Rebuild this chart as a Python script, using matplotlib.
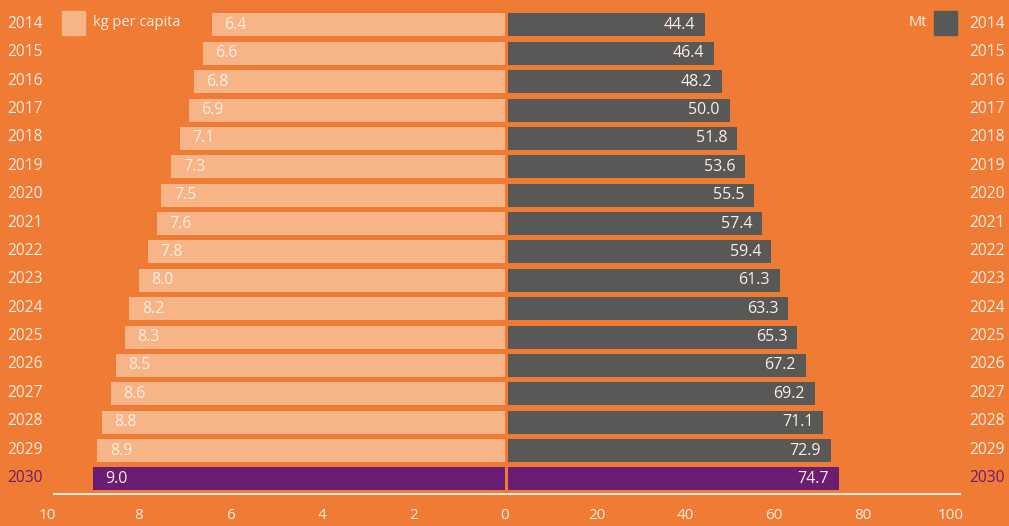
import matplotlib
matplotlib.use("Agg")
import matplotlib.pyplot as plt
from matplotlib.patches import Rectangle
from matplotlib.lines import Line2D

years = [str(y) for y in range(2014, 2031)]
kg_per_capita = [6.4, 6.6, 6.8, 6.9, 7.1, 7.3, 7.5, 7.6, 7.8, 8.0, 8.2, 8.3, 8.5, 8.6, 8.8, 8.9, 9.0]
mt = [44.4, 46.4, 48.2, 50.0, 51.8, 53.6, 55.5, 57.4, 59.4, 61.3, 63.3, 65.3, 67.2, 69.2, 71.1, 72.9, 74.7]
left_ticks = [10, 8, 6, 4, 2, 0]
right_ticks = [0, 20, 40, 60, 80, 100]

BG = "#EF7B34"
PEACH = "#F6B487"
GRAY = "#585856"
PURPLE = "#6B1C73"
TXT = "#FDEDE2"

plt.rcParams['font.family'] = ['Open Sans', 'DejaVu Sans']

W, H = 1009, 526
fig = plt.figure(figsize=(W / 100, H / 100), dpi=100, facecolor=BG)

n = len(years)
ax_bottom = (H - 494) / H
ax_height = 494 / H
ylim = (n - 1 + 0.53, -0.88)

axL = fig.add_axes([47 / W, ax_bottom, 458 / W, ax_height])
axR = fig.add_axes([508 / W, ax_bottom, 443 / W, ax_height])

for ax in (axL, axR):
    ax.set_facecolor("none")
    ax.set_ylim(*ylim)
    for s in ax.spines.values():
        s.set_visible(False)
    ax.set_yticks([])
    ax.tick_params(axis='x', length=0, pad=10, labelsize=11, labelcolor=TXT)

axL.set_xlim(10, 0)
axR.set_xlim(0, 100)
axL.set_xticks(left_ticks)
axR.set_xticks(right_ticks)
axL.set_xticklabels([str(t) for t in left_ticks])
# the shared zero is labelled once (by the left axis)
axR.set_xticklabels(["" if t == 0 else str(t) for t in right_ticks])

ypos = list(range(n))
lcolors = [PEACH] * (n - 1) + [PURPLE]
rcolors = [GRAY] * (n - 1) + [PURPLE]
axL.barh(ypos, kg_per_capita, height=0.81, color=lcolors)
axR.barh(ypos, mt, height=0.81, color=rcolors)

for v, y in zip(kg_per_capita, ypos):
    axL.annotate(f"{v:.1f}", xy=(v, y), xytext=(9, 0), textcoords="offset points",
                 ha="left", va="center", color=TXT, fontsize=11.5)
for v, y in zip(mt, ypos):
    axR.annotate(f"{v:.1f}", xy=(v, y), xytext=(-7, 0), textcoords="offset points",
                 ha="right", va="center", color=TXT, fontsize=11.5)

# year labels both sides
for i, yr in enumerate(years):
    c = PURPLE if i == n - 1 else TXT
    axL.annotate(yr, xy=(0, i), xycoords=("figure fraction", "data"),
                 xytext=(7, 1), textcoords="offset pixels",
                 ha="left", va="center", color=c, fontsize=11.2)
    axR.annotate(yr, xy=(1, i), xycoords=("figure fraction", "data"),
                 xytext=(-4, 1), textcoords="offset pixels",
                 ha="right", va="center", color=c, fontsize=11.2)

# bottom white line
fig.add_artist(Line2D([54 / W, 960 / W], [(H - 494) / H] * 2, color="#FCE8DA", lw=1.5))

# legends
fig.add_artist(Rectangle((62 / W, (H - 35) / H), 23 / W, 24 / H, color=PEACH))
fig.text(93 / W, (H - 23) / H, "kg per capita", color=TXT, fontsize=10.5, va="center", ha="left")
fig.add_artist(Rectangle((934 / W, (H - 35) / H), 23 / W, 24 / H, color=GRAY))
fig.text(927 / W, (H - 23) / H, "Mt", color=TXT, fontsize=10.5, va="center", ha="right")

fig.savefig("out.png", dpi=100, facecolor=BG)
